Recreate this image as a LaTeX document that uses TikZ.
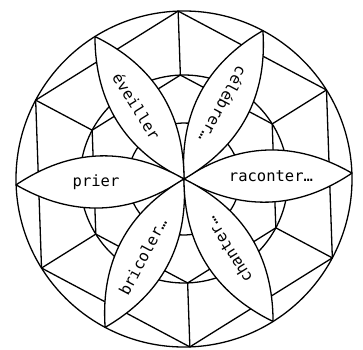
\documentclass[tikz,border=0pt]{standalone}
\usepackage{fontspec}
\newfontfamily\petalfont{DejaVu Sans Mono}
\begin{document}
\begin{tikzpicture}[x=1pt,y=1pt,line width=1.3pt,line join=round,
  petal/.style={draw,fill=white},
  lbl/.style={font=\petalfont\fontsize{15.5}{15.5}\selectfont,inner sep=0pt}]
\useasboundingbox (-184,-170) rectangle (179,179);
\begin{scope}[rotate=2]
\coordinate (O) at (0,0);
\foreach \k in {0,...,11} \coordinate (V\k) at (\k*30:168);
\foreach \k in {1,3,5,7,9,11} \coordinate (I\k) at (\k*30:104);
\draw (O) circle (168);
\draw (O) circle (104);
\draw (O) circle (56);
\draw (V1)--(V3)--(V5)--(V7)--(V9)--(V11)--cycle;
\draw (I1)--(I3)--(I5)--(I7)--(I9)--(I11)--cycle;
\foreach \k in {1,3,5,7,9,11} \draw (V\k)--(I\k);
\foreach \k in {0,2,4,6,8,10}
  \draw[petal] (O) to[bend left=32] (V\k) to[bend left=32] (O);
\node[lbl,rotate=-58] (t1) at (121:87) {éveiller};
\node[lbl,rotate=-118] (t2) at (60:84) {célébrer…};
\node[lbl] (t3) at (0:87) {raconter…};
\node[lbl] (t4) at (180:88) {prier};
\node[lbl,rotate=62] (t5) at (240:88) {bricoler…};
\node[lbl,rotate=122] (t6) at (300:84) {chanter…};
\end{scope}
\end{tikzpicture}
\end{document}
